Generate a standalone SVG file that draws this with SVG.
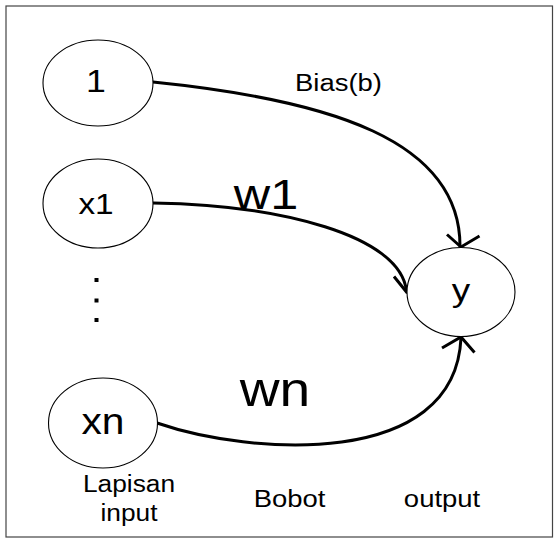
<svg xmlns="http://www.w3.org/2000/svg" width="559" height="542" viewBox="0 0 559 542">
<style>
.node{fill:#fff;stroke:#000;stroke-width:1.1}
.lbl{font-family:"Liberation Sans",Arial,sans-serif;fill:#000;text-anchor:middle}
.edge{fill:none;stroke:#000;stroke-width:3;stroke-linecap:round}
.head{fill:none;stroke:#000;stroke-width:3;stroke-linecap:butt;stroke-linejoin:miter}
</style>
<rect x="0" y="0" width="559" height="542" fill="#fff"/>
<rect x="6" y="6" width="546.5" height="531" fill="none" stroke="#444" stroke-width="1.2"/>
<g id="connectors">
<path class="edge" d="M153,82 C330,100 460,140 460,246"/>
<polyline class="head" points="447,234.5 461,247 479.5,236"/>
<path class="edge" d="M153,203 C280,205 400,235 406.5,291"/>
<polyline class="head" points="394,276.5 406.5,292 426,281.5"/>
<path class="edge" d="M157,423 C250,455 455,470 461,338"/>
<polyline class="head" points="442,348 461,337 474.5,352.5"/>
</g>
<g id="node-1">
<ellipse class="node" cx="98" cy="83" rx="55" ry="43"/>
<text class="lbl" transform="translate(96,91.5) scale(1.15,1)" font-size="31">1</text>
</g>
<g id="node-x1">
<ellipse class="node" cx="98" cy="203.5" rx="55" ry="44.5"/>
<text class="lbl" transform="translate(96,213.5) scale(1.15,1)" font-size="29">x1</text>
</g>
<g id="node-xn">
<ellipse class="node" cx="103" cy="423" rx="54.5" ry="45"/>
<text class="lbl" transform="translate(103,434) scale(1.1,1)" font-size="37">xn</text>
</g>
<g id="node-y">
<ellipse class="node" cx="461" cy="292" rx="54" ry="44.5"/>
<text class="lbl" transform="translate(461,301) scale(1.15,1)" font-size="32">y</text>
</g>
<g id="dots">
<rect x="94.5" y="278" width="4" height="4"/>
<rect x="94.5" y="298.5" width="4" height="4"/>
<rect x="94.5" y="318" width="4" height="4"/>
</g>
<g id="labels">
<text class="lbl" transform="translate(338.5,91) scale(1.12,1)" font-size="24.5">Bias(b)</text>
<text class="lbl" transform="translate(266,208.5) scale(1.2,1)" font-size="42">w1</text>
<text class="lbl" transform="translate(275,405.5) scale(1.15,1)" font-size="48">wn</text>
<text class="lbl" transform="translate(129,492) scale(1.12,1)" font-size="23.5">Lapisan</text>
<text class="lbl" transform="translate(129,521) scale(1.12,1)" font-size="23.5">input</text>
<text class="lbl" transform="translate(289.5,507) scale(1.12,1)" font-size="24.5">Bobot</text>
<text class="lbl" transform="translate(442,507) scale(1.12,1)" font-size="24.5">output</text>
</g>
</svg>
